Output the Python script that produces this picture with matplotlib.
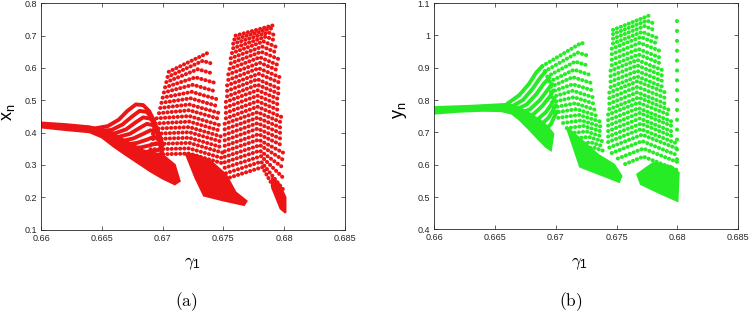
import matplotlib
matplotlib.use("Agg")
import matplotlib.pyplot as plt

plt.rcParams['font.family'] = ['Liberation Sans', 'DejaVu Sans']
plt.rcParams['mathtext.fontset'] = 'cm'

RED = '#ec1414'
GREEN = '#26ec26'

x_ticks = [0.66, 0.665, 0.67, 0.675, 0.68, 0.685]
x_tick_labels = ['0.66', '0.665', '0.67', '0.675', '0.68', '0.685']
a_y_ticks = [0.1, 0.2, 0.3, 0.4, 0.5, 0.6, 0.7, 0.8]
a_y_tick_labels = ['0.1', '0.2', '0.3', '0.4', '0.5', '0.6', '0.7', '0.8']
b_y_ticks = [0.4, 0.5, 0.6, 0.7, 0.8, 0.9, 1.0, 1.1]
b_y_tick_labels = ['0.4', '0.5', '0.6', '0.7', '0.8', '0.9', '1', '1.1']

# ---------------- panel (a): x_n ----------------
# flat band + solid lower part of the fan
a_band_g = [0.6600, 0.6620, 0.6640, 0.6650, 0.6660, 0.6672, 0.6684, 0.6695, 0.6702, 0.6710, 0.6714,
            0.6710, 0.6700, 0.6690, 0.6680, 0.6670, 0.6660, 0.6650, 0.6640, 0.6620, 0.6600]
a_band_x = [0.431, 0.426, 0.419, 0.410, 0.395, 0.370, 0.345, 0.335, 0.325, 0.300, 0.250,
            0.240, 0.258, 0.280, 0.305, 0.330, 0.356, 0.385, 0.401, 0.408, 0.416]

# nested arcs of the fan
a_fan_g = [
    [0.6643, 0.6655, 0.6664, 0.6671, 0.6678, 0.6684, 0.6689, 0.6693, 0.6697, 0.6700],
    [0.6645, 0.6658, 0.6667, 0.6675, 0.6681, 0.6687, 0.6691, 0.6695, 0.6698, 0.6700],
    [0.6648, 0.6661, 0.6670, 0.6678, 0.6684, 0.6690, 0.6694, 0.6697, 0.6699],
    [0.6652, 0.6664, 0.6673, 0.6681, 0.6687, 0.6692, 0.6696, 0.6699],
    [0.6656, 0.6668, 0.6676, 0.6684, 0.6690, 0.6695, 0.6698, 0.6700],
    [0.6660, 0.6671, 0.6679, 0.6687, 0.6693, 0.6697, 0.6700],
    [0.6664, 0.6674, 0.6682, 0.6690, 0.6695, 0.6699],
    [0.6668, 0.6678, 0.6686, 0.6693, 0.6698],
]
a_fan_x = [
    [0.412, 0.420, 0.440, 0.467, 0.487, 0.485, 0.466, 0.436, 0.385, 0.330],
    [0.405, 0.408, 0.425, 0.450, 0.467, 0.464, 0.445, 0.412, 0.365, 0.320],
    [0.398, 0.398, 0.410, 0.432, 0.447, 0.443, 0.425, 0.395, 0.350],
    [0.389, 0.387, 0.396, 0.414, 0.427, 0.423, 0.405, 0.375],
    [0.380, 0.375, 0.382, 0.396, 0.407, 0.402, 0.385, 0.360],
    [0.370, 0.364, 0.368, 0.378, 0.387, 0.382, 0.365],
    [0.360, 0.352, 0.354, 0.361, 0.367, 0.362],
    [0.350, 0.341, 0.340, 0.344, 0.347],
]

# second wave: strand left end, ridge and right end
a_w2_lg = [0.6705, 0.6704, 0.6703, 0.6702, 0.6701, 0.6700, 0.6699, 0.6698, 0.6697, 0.6695,
           0.6694, 0.6693, 0.6692, 0.6692, 0.6691, 0.6690, 0.6690]
a_w2_lx = [0.588, 0.572, 0.556, 0.540, 0.524, 0.508, 0.492, 0.476, 0.460, 0.444,
           0.428, 0.412, 0.396, 0.380, 0.364, 0.348, 0.332]
a_w2_mg = [0.6738, 0.6733, 0.6729, 0.6727, 0.6725, 0.6724, 0.6723, 0.6722, 0.6722, 0.6722,
           0.6722, 0.6722, 0.6722, 0.6722, 0.6722, 0.6722, 0.6722]
a_w2_mx = [0.648, 0.622, 0.596, 0.571, 0.548, 0.526, 0.506, 0.487, 0.469, 0.451,
           0.434, 0.417, 0.401, 0.384, 0.368, 0.351, 0.335]
a_w2_rg = [0.6739, 0.6740, 0.6741, 0.6742, 0.6743, 0.6744, 0.6745, 0.6746, 0.6746, 0.6747,
           0.6748, 0.6748, 0.6749, 0.6749, 0.6750, 0.6750, 0.6751]
a_w2_rx = [0.647, 0.614, 0.583, 0.555, 0.528, 0.504, 0.482, 0.461, 0.443, 0.423,
           0.405, 0.388, 0.371, 0.354, 0.337, 0.320, 0.303]

# dense band between wave 2 and wave 3
a_b23_g = [0.6719, 0.6727, 0.6734, 0.6750, 0.6767, 0.6769, 0.6760, 0.6752, 0.6740, 0.6728]
a_b23_x = [0.335, 0.260, 0.205, 0.190, 0.176, 0.188, 0.215, 0.270, 0.310, 0.330]

# third wave
a_w3_lg = [0.6760, 0.6759, 0.6758, 0.6758, 0.6757, 0.6756, 0.6756, 0.6755, 0.6754, 0.6754,
           0.6753, 0.6753, 0.6753, 0.6752, 0.6752, 0.6752, 0.6752, 0.6751, 0.6751, 0.6751,
           0.6751, 0.6751, 0.6751, 0.6751, 0.6751, 0.6751, 0.6752, 0.6752]
a_w3_lx = [0.700, 0.688, 0.675, 0.661, 0.646, 0.630, 0.614, 0.597, 0.580, 0.563,
           0.546, 0.529, 0.512, 0.495, 0.478, 0.461, 0.444, 0.427, 0.410, 0.393,
           0.376, 0.359, 0.342, 0.325, 0.308, 0.291, 0.274, 0.257]
a_w3_mg = [0.6791, 0.6789, 0.6787, 0.6785, 0.6783, 0.6782, 0.6781, 0.6780, 0.6780, 0.6779,
           0.6779, 0.6778, 0.6778, 0.6778, 0.6778, 0.6778, 0.6778, 0.6778, 0.6778, 0.6778,
           0.6778, 0.6779, 0.6779, 0.6780, 0.6780, 0.6781, 0.6781, 0.6782]
a_w3_mx = [0.732, 0.722, 0.710, 0.697, 0.682, 0.666, 0.650, 0.633, 0.616, 0.599,
           0.582, 0.565, 0.548, 0.531, 0.514, 0.497, 0.480, 0.463, 0.446, 0.429,
           0.412, 0.395, 0.378, 0.361, 0.344, 0.327, 0.310, 0.293]
a_w3_rg = [0.6792, 0.6792, 0.6793, 0.6793, 0.6794, 0.6794, 0.6795, 0.6795, 0.6795, 0.6796,
           0.6796, 0.6796, 0.6797, 0.6797, 0.6797, 0.6797, 0.6798, 0.6798, 0.6798, 0.6798,
           0.6799, 0.6799, 0.6799, 0.6799, 0.6800, 0.6800, 0.6800, 0.6800]
a_w3_rx = [0.730, 0.717, 0.700, 0.684, 0.664, 0.647, 0.628, 0.609, 0.592, 0.572,
           0.555, 0.536, 0.518, 0.501, 0.484, 0.467, 0.448, 0.431, 0.414, 0.397,
           0.378, 0.359, 0.338, 0.316, 0.289, 0.257, 0.220, 0.173]

a_b3_g = [0.6790, 0.6797, 0.6801, 0.6801, 0.6796, 0.6790]
a_b3_x = [0.230, 0.165, 0.152, 0.200, 0.240, 0.260]

# ---------------- panel (b): y_n ----------------
b_band_g = [0.6600, 0.6630, 0.6650, 0.6660, 0.6668, 0.6678, 0.6688, 0.6694, 0.6698,
            0.6696, 0.6692, 0.6685, 0.6678, 0.6670, 0.6664, 0.6655, 0.6640, 0.6620, 0.6600]
b_band_x = [0.778, 0.782, 0.786, 0.788, 0.780, 0.760, 0.735, 0.715, 0.695,
            0.645, 0.655, 0.682, 0.710, 0.740, 0.758, 0.766, 0.767, 0.764, 0.758]

b_fan_g = [
    [0.6660, 0.6670, 0.6678, 0.6684, 0.6689],
    [0.6663, 0.6673, 0.6681, 0.6687, 0.6692],
    [0.6666, 0.6676, 0.6684, 0.6690, 0.6695],
    [0.6669, 0.6679, 0.6687, 0.6693, 0.6697],
    [0.6672, 0.6682, 0.6689, 0.6695, 0.6698],
    [0.6676, 0.6685, 0.6692, 0.6697, 0.6699],
    [0.6680, 0.6688, 0.6694, 0.6698, 0.6700],
    [0.6684, 0.6691, 0.6696, 0.6699, 0.6701],
]
b_fan_x = [
    [0.788, 0.815, 0.850, 0.885, 0.905],
    [0.778, 0.800, 0.835, 0.868, 0.890],
    [0.768, 0.786, 0.818, 0.850, 0.870],
    [0.756, 0.772, 0.800, 0.830, 0.850],
    [0.744, 0.757, 0.782, 0.810, 0.830],
    [0.728, 0.740, 0.763, 0.790, 0.805],
    [0.715, 0.724, 0.745, 0.770, 0.785],
    [0.700, 0.707, 0.725, 0.750, 0.765],
]

b_w2_lg = [0.6689, 0.6691, 0.6693, 0.6695, 0.6696, 0.6696, 0.6697, 0.6697, 0.6698, 0.6699,
           0.6702, 0.6706, 0.6709, 0.6712, 0.6714, 0.6716, 0.6718]
b_w2_lx = [0.905, 0.889, 0.873, 0.857, 0.841, 0.825, 0.809, 0.793, 0.777, 0.761,
           0.745, 0.729, 0.713, 0.697, 0.681, 0.665, 0.649]
b_w2_mg = [0.6721, 0.6718, 0.6716, 0.6715, 0.6714, 0.6714, 0.6714, 0.6715, 0.6716, 0.6717,
           0.6719, 0.6721, 0.6723, 0.6725, 0.6727, 0.6729, 0.6731]
b_w2_mx = [0.977, 0.947, 0.919, 0.894, 0.871, 0.849, 0.829, 0.809, 0.790, 0.772,
           0.754, 0.737, 0.720, 0.703, 0.686, 0.669, 0.653]
b_w2_rg = [0.6723, 0.6725, 0.6727, 0.6729, 0.6730, 0.6731, 0.6732, 0.6733, 0.6734, 0.6735,
           0.6736, 0.6737, 0.6738, 0.6738, 0.6739, 0.6739, 0.6740]
b_w2_rx = [0.975, 0.939, 0.906, 0.877, 0.852, 0.829, 0.807, 0.787, 0.768, 0.750,
           0.734, 0.718, 0.702, 0.687, 0.672, 0.657, 0.642]

b_b2_g = [0.6709, 0.6720, 0.6752, 0.6754, 0.6748, 0.6735, 0.6720]
b_b2_x = [0.716, 0.594, 0.547, 0.565, 0.600, 0.630, 0.680]

b_w3_lg = [0.6747, 0.6747, 0.6747, 0.6747, 0.6746, 0.6746, 0.6746, 0.6746, 0.6745, 0.6745,
           0.6745, 0.6745, 0.6744, 0.6744, 0.6744, 0.6744, 0.6743, 0.6743, 0.6743, 0.6743,
           0.6743, 0.6743, 0.6744, 0.6746, 0.6751, 0.6757]
b_w3_lx = [1.017, 1.004, 0.990, 0.975, 0.959, 0.942, 0.925, 0.908, 0.891, 0.874,
           0.857, 0.840, 0.823, 0.806, 0.789, 0.772, 0.755, 0.738, 0.721, 0.704,
           0.687, 0.670, 0.653, 0.636, 0.619, 0.602]
b_w3_mg = [0.6777, 0.6775, 0.6773, 0.6771, 0.6770, 0.6769, 0.6768, 0.6768, 0.6767, 0.6767,
           0.6767, 0.6767, 0.6767, 0.6767, 0.6767, 0.6768, 0.6768, 0.6768, 0.6769, 0.6769,
           0.6770, 0.6770, 0.6771, 0.6771, 0.6772, 0.6772]
b_w3_mx = [1.062, 1.046, 1.029, 1.011, 0.995, 0.977, 0.958, 0.941, 0.924, 0.907,
           0.890, 0.873, 0.858, 0.841, 0.824, 0.808, 0.792, 0.775, 0.760, 0.743,
           0.727, 0.710, 0.693, 0.673, 0.650, 0.625]
b_w3_rg = [0.6778, 0.6780, 0.6782, 0.6783, 0.6784, 0.6785, 0.6786, 0.6787, 0.6788, 0.6789,
           0.6789, 0.6790, 0.6791, 0.6791, 0.6792, 0.6793, 0.6794, 0.6795, 0.6796, 0.6796,
           0.6797, 0.6798, 0.6799, 0.6800, 0.6800, 0.6800]
b_w3_rx = [1.060, 1.038, 1.015, 0.993, 0.974, 0.953, 0.931, 0.912, 0.892, 0.874,
           0.857, 0.838, 0.822, 0.805, 0.786, 0.770, 0.753, 0.734, 0.719, 0.702,
           0.686, 0.668, 0.651, 0.629, 0.608, 0.583]

b_b3_g = [0.6767, 0.6770, 0.6785, 0.6800, 0.6801, 0.6795, 0.6780]
b_b3_x = [0.570, 0.540, 0.513, 0.488, 0.575, 0.595, 0.605]

# last sampled column (sparse dots)
b_col_g = [0.6800, 0.6800]
b_col_x = [1.045, 0.600]

dots = dict(lw=2.9, ls=(0, (0.05, 1.0)), dash_capstyle='round')


def draw_wave(ax, lg, lx, mg, mx, rg, rx, color):
    for i in range(len(lg)):
        ax.plot([lg[i], mg[i], rg[i]], [lx[i], mx[i], rx[i]], color=color, **dots)


def style_axes(ax, yticks, ylabels, ylim):
    ax.set_xlim(0.66, 0.685)
    ax.set_ylim(*ylim)
    ax.set_xticks(x_ticks)
    ax.set_xticklabels(x_tick_labels)
    ax.set_yticks(yticks)
    ax.set_yticklabels(ylabels)
    ax.tick_params(direction='in', top=True, right=True, length=3, width=0.5,
                   colors='#262626', labelsize=6.5, pad=3)
    for s in ax.spines.values():
        s.set_linewidth(0.6)
        s.set_color('#262626')


fig = plt.figure(figsize=(7.5, 3.12), dpi=100)
ax1 = fig.add_axes([0.0547, 0.2644, 0.4053, 0.725])
ax2 = fig.add_axes([0.5787, 0.2650, 0.4057, 0.725])

# panel (a)
ax1.fill(a_band_g, a_band_x, color=RED, lw=1.5, ec=RED)
for g, x in zip(a_fan_g, a_fan_x):
    ax1.plot(g, x, color=RED, lw=2.8, solid_capstyle='round')
draw_wave(ax1, a_w2_lg, a_w2_lx, a_w2_mg, a_w2_mx, a_w2_rg, a_w2_rx, RED)
ax1.fill(a_b23_g, a_b23_x, color=RED, lw=1.5, ec=RED)
draw_wave(ax1, a_w3_lg, a_w3_lx, a_w3_mg, a_w3_mx, a_w3_rg, a_w3_rx, RED)
ax1.fill(a_b3_g, a_b3_x, color=RED, lw=1.5, ec=RED)
style_axes(ax1, a_y_ticks, a_y_tick_labels, (0.1, 0.8))

# panel (b)
ax2.fill(b_band_g, b_band_x, color=GREEN, lw=1.5, ec=GREEN)
for g, x in zip(b_fan_g, b_fan_x):
    ax2.plot(g, x, color=GREEN, lw=2.8, solid_capstyle='round')
draw_wave(ax2, b_w2_lg, b_w2_lx, b_w2_mg, b_w2_mx, b_w2_rg, b_w2_rx, GREEN)
ax2.fill(b_b2_g, b_b2_x, color=GREEN, lw=1.5, ec=GREEN)
draw_wave(ax2, b_w3_lg, b_w3_lx, b_w3_mg, b_w3_mx, b_w3_rg, b_w3_rx, GREEN)
ax2.fill(b_b3_g, b_b3_x, color=GREEN, lw=1.5, ec=GREEN)
ax2.plot(b_col_g, b_col_x, color=GREEN, lw=2.9, ls=(0, (0.05, 2.4)), dash_capstyle='round')
style_axes(ax2, b_y_ticks, b_y_tick_labels, (0.4, 1.1))

# labels
fig.text(0.0107, 0.641, r'$\mathregular{x_n}$', rotation=90, ha='center', va='center', fontsize=13)
fig.text(0.5333, 0.647, r'$\mathregular{y_n}$', rotation=90, ha='center', va='center', fontsize=13)
fig.text(0.2573, 0.154, r'$\gamma_\mathregular{1}$', ha='center', va='center', fontsize=12.5)
fig.text(0.7733, 0.154, r'$\gamma_\mathregular{1}$', ha='center', va='center', fontsize=12.5)
fig.text(0.248, 0.032, r'$\mathrm{(a)}$', ha='center', va='center', fontsize=12.5)
fig.text(0.761, 0.032, r'$\mathrm{(b)}$', ha='center', va='center', fontsize=12.5)

fig.savefig('out.png', dpi=100)
